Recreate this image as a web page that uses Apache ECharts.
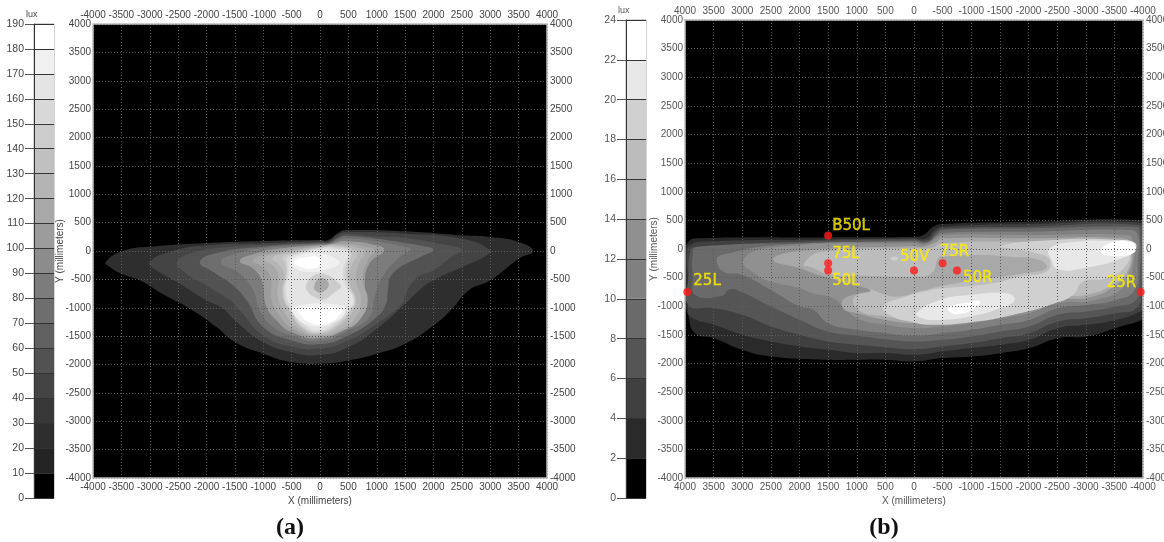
<!DOCTYPE html>
<html><head><meta charset="utf-8"><style>html,body{margin:0;background:#fff}#c{width:1164px;height:542px}</style>
<script src="https://cdn.jsdelivr.net/npm/echarts@6/dist/echarts.min.js"></script></head>
<body><div id="c"></div><script>
const luxBandsA=[0,10,20,30,40,50,60,70,80,90,100,110,120,130,140,150,160,170,180];
const luxGrayA=[0,36,46,56,68,82,96,110,124,140,156,168,180,192,204,216,228,240,255];
const luxBandsB=[0,2,4,6,8,10,12,14,16,18,20,22];
const luxGrayB=[0,42,64,85,106,128,144,168,188,208,232,255];

const a20=[[-3775,-194],[-3470,0],[-2880,82],[-2000,140],[-1000,176],[0,194],[141,194],[352,340],[500,370],[1500,347],[2500,276],[3000,247],[3500,159],[3750,0],[3500,-135],[3000,-517],[2620,-694],[2330,-1017],[2000,-1311],[1500,-1635],[1000,-1811],[500,-1929],[0,-1985],[-500,-1958],[-1000,-1811],[-1500,-1605],[-1823,-1340],[-2293,-1017],[-2764,-764],[-3175,-517],[-3500,-400],[-3704,-282]];
const a40=[[-3000,-194],[-2587,0],[-2000,100],[-1000,135],[0,170],[150,170],[330,300],[500,335],[1500,306],[2500,217],[3000,12],[2900,-100],[2500,-282],[2000,-517],[1744,-694],[1500,-929],[1000,-1370],[500,-1694],[0,-1830],[-500,-1782],[-1000,-1605],[-1500,-1223],[-1705,-1017],[-2000,-870],[-2470,-576],[-2880,-341]];
const a50=[[-2517,-194],[-2200,-20],[-1500,80],[-1000,105],[0,150],[150,155],[340,270],[500,300],[1000,255],[1500,230],[2200,110],[2500,24],[2350,-80],[2000,-341],[1688,-488],[1500,-782],[1450,-929],[1000,-1282],[500,-1576],[0,-1720],[-500,-1682],[-1000,-1488],[-1411,-1047],[-1588,-870],[-2000,-606],[-2352,-400]];
const a70=[[-2117,-194],[-1800,-30],[-1000,75],[0,135],[150,140],[350,240],[500,265],[1200,190],[1800,90],[2000,24],[1800,-90],[1280,-400],[1193,-723],[1165,-929],[1000,-1164],[500,-1488],[0,-1640],[-500,-1576],[-1000,-1340],[-1294,-870],[-1529,-606],[-1882,-370]];
const a80=[[-1746,-194],[-1450,-40],[-1000,50],[0,120],[150,125],[360,205],[500,225],[1100,150],[1500,70],[1600,24],[1400,-110],[1100,-459],[960,-811],[870,-1164],[500,-1400],[0,-1580],[-500,-1488],[-823,-1340],[-1058,-1047],[-1176,-694],[-1411,-400]];
const a100=[[-1411,-176],[-1150,-50],[-800,30],[0,105],[150,110],[350,165],[500,170],[900,120],[1130,24],[870,-223],[790,-576],[820,-929],[700,-1194],[500,-1352],[0,-1535],[-500,-1429],[-764,-1223],[-940,-988],[-1030,-517],[-1176,-311]];
const a110=[[-1188,-165],[-835,-30],[0,92],[341,130],[600,120],[811,70],[958,12],[840,-165],[753,-488],[840,-870],[723,-1180],[459,-1380],[0,-1505],[-423,-1400],[-717,-1135],[-864,-811],[-864,-488],[-1011,-282]];
const a120=[[-982,-135],[-658,-29],[0,80],[341,110],[723,45],[800,-18],[682,-223],[635,-517],[723,-870],[635,-1164],[400,-1360],[0,-1480],[-365,-1380],[-629,-1076],[-747,-782],[-729,-459],[-806,-282]];
const a130=[[-835,-118],[-541,-29],[0,68],[341,90],[606,25],[664,-47],[547,-282],[517,-547],[635,-870],[547,-1105],[341,-1320],[0,-1460],[-306,-1370],[-541,-1047],[-670,-753],[-629,-429],[-717,-253]];
const a140=[[-658,-106],[-482,-47],[0,58],[341,70],[547,-6],[480,-341],[500,-576],[620,-870],[520,-1076],[310,-1300],[0,-1440],[-290,-1360],[-530,-1047],[-650,-740],[-600,-420],[-610,-230]];
const a150=[[-590,-120],[-420,-50],[0,48],[312,50],[520,-20],[440,-341],[480,-576],[605,-870],[505,-1070],[295,-1285],[0,-1424],[-275,-1345],[-510,-1040],[-630,-730],[-580,-410],[-585,-220]];
const a160=[[-525,-125],[-370,-50],[0,28],[300,25],[490,-35],[400,-345],[445,-590],[585,-870],[475,-1060],[265,-1255],[0,-1393],[-245,-1318],[-475,-1030],[-600,-720],[-550,-400],[-548,-205]];
const a170top=[[-511,-194],[-335,-76],[18,-47],[282,-135],[341,-223],[47,-341],[-188,-370],[-423,-312]];
const a170low=[[-482,-988],[400,-958],[429,-1105],[253,-1252],[-12,-1325],[-247,-1290],[-423,-1164]];
const a180top=[[-453,-194],[-306,-123],[-12,-118],[-12,-253],[-159,-312],[-335,-282]];
const a180low=[[-376,-1017],[370,-1017],[340,-1135],[165,-1264],[-12,-1300],[-218,-1241],[-335,-1135]];
const aDipOuter=[[-247,-606],[-100,-429],[118,-417],[341,-576],[370,-635],[223,-753],[76,-853],[-100,-811],[-218,-706]];
const aDipInner=[[-100,-606],[18,-476],[153,-576],[47,-723],[-70,-706]];
const contoursA=[[20,a20],[40,a40],[50,a50],[70,a70],[80,a80],[100,a100],[110,a110],[120,a120],[130,a130],[140,a140],[150,a150],[160,a160],[140,aDipOuter],[110,aDipInner],[170,a170top],[170,a170low],[180,a180top],[180,a180low]];

const b2=[[3939,128],[3736,186],[1499,203],[0,215],[-163,244],[-337,389],[-511,436],[-2010,476],[-3968,505],[-4100,400],[-4100,-1100],[-3968,-1238],[-3707,-1325],[-3521,-1383],[-3021,-1528],[-2516,-1557],[-2010,-1731],[-1510,-1819],[-1005,-1877],[-500,-1906],[0,-1964],[494,-1935],[994,-1935],[1499,-1935],[2498,-1877],[2998,-1760],[3492,-1557],[3823,-1470],[3939,-1179],[4000,-830],[4000,-75]];
const b4=[[3910,70],[3736,128],[1499,168],[0,186],[-220,186],[-365,331],[-511,389],[-2010,436],[-3939,459],[-4015,331],[-4015,-1005],[-3881,-1121],[-3521,-1238],[-3021,-1325],[-2516,-1383],[-2010,-1586],[-1510,-1673],[-1005,-1731],[-500,-1790],[0,-1848],[494,-1818],[994,-1818],[1499,-1760],[1993,-1702],[2498,-1615],[2998,-1499],[3492,-1325],[3910,-1179],[3950,-1005],[3956,-482],[3968,-17]];
const b6=[[3910,-46],[3823,29],[1499,145],[0,168],[-250,157],[-383,302],[-511,360],[-2010,389],[-3910,418],[-3980,244],[-3980,-715],[-3881,-1034],[-3521,-1121],[-3021,-1208],[-2516,-1267],[-2010,-1470],[-1510,-1557],[-1005,-1644],[-500,-1702],[0,-1749],[494,-1714],[994,-1673],[1499,-1615],[1993,-1499],[2498,-1354],[2998,-1150],[3492,-1034],[3939,-976],[3939,-482]];
const b8=[[3864,-75],[3794,41],[1499,110],[0,145],[-250,128],[-395,261],[-511,331],[-2010,360],[-3852,389],[-3939,331],[-3939,-600],[-3881,-889],[-3521,-1005],[-3021,-1092],[-2516,-1150],[-2010,-1354],[-1510,-1441],[-1005,-1528],[-500,-1586],[0,-1615],[494,-1575],[994,-1516],[1499,-1441],[1993,-1238],[2498,-1005],[2998,-761],[3213,-703],[3358,-819],[3823,-802],[3864,-482]];
const b10=[[3445,-192],[3358,-105],[2341,70],[0,128],[-220,110],[-395,226],[-511,285],[-2010,302],[-3765,331],[-3910,244],[-3910,-192],[-3852,-715],[-3521,-889],[-3021,-976],[-2516,-1034],[-2010,-1238],[-1510,-1325],[-1005,-1412],[-500,-1470],[0,-1516],[494,-1470],[994,-1412],[1499,-1296],[1760,-1063],[1993,-1005],[2498,-715],[2998,-453],[3329,-395]];
const b12=[[2981,-192],[2458,29],[0,99],[-192,70],[-395,186],[-511,244],[-2010,244],[-3707,244],[-3823,157],[-3823,-308],[-3678,-657],[-3184,-889],[-2516,-947],[-2010,-1121],[-1510,-1208],[-1005,-1296],[-500,-1354],[0,-1383],[494,-1325],[994,-1208],[1238,-1005],[1412,-860],[1760,-773],[1993,-686],[2498,-569],[2748,-453]];
const b14=[[2458,-192],[2109,-46],[0,52],[-163,41],[-395,128],[-511,186],[-2010,186],[-3649,186],[-3794,70],[-3765,-366],[-3533,-627],[-3068,-842],[-2516,-889],[-2010,-1034],[-1510,-1133],[-1005,-1208],[-500,-1267],[0,-1296],[494,-1238],[994,-1121],[1238,-1034],[1208,-860],[755,-703],[1441,-511],[1993,-337]];
const b16=[[1848,-163],[1586,-46],[0,12],[-279,15],[-511,99],[-2010,128],[-3620,128],[-3765,40],[-3735,-366],[-3500,-600],[-3068,-790],[-2516,-842],[-2010,-980],[-1510,-1075],[-1005,-1150],[-500,-1208],[0,-1240],[500,-1180],[950,-1080],[1050,-850],[760,-720],[1441,-500],[1900,-330]];
const b14dip=[[1848,-300],[1500,-440],[800,-470],[0,-480],[-300,-430],[-430,-150],[-500,-134],[-1092,-105],[-1673,-134],[-2196,-192],[-2312,-337],[-1905,-424],[-1557,-482],[-1092,-540],[-511,-640],[-100,-740],[250,-830],[500,-800],[760,-705],[1441,-520],[1950,-340]];
const b18=[[-1499,41],[-1964,128],[-3650,157],[-3765,41],[-3707,-279],[-3358,-511],[-2952,-569],[-2777,-802],[-2370,-976],[-1848,-1121],[-1092,-1267],[-279,-1325],[70,-1267],[366,-1185],[540,-1010],[250,-866],[-273,-720],[-511,-686],[-1383,-598],[-1848,-482],[-2312,-395],[-2370,-192],[-2138,-75],[-1673,12]];
const b20top=[[-2370,12],[-2835,128],[-3416,145],[-3823,128],[-3880,12],[-3707,-134],[-2952,-337],[-2516,-354],[-2400,-192]];
const b20low=[[-46,-1121],[-453,-889],[-976,-802],[-1615,-773],[-1760,-889],[-1500,-1034],[-976,-1179],[-453,-1238],[-134,-1208]];
const b20blob=[[-1830,-790],[-1900,-755],[-2000,-790],[-1920,-830]];
const b20spot=[[270,-160],[340,-130],[410,-165],[340,-200]];
const b22top=[[-3271,-46],[-3416,99],[-3765,128],[-3870,41],[-3823,-75],[-3475,-122]];
const b22low=[[-598,-1034],[-918,-935],[-1150,-918],[-1063,-1034],[-802,-1133],[-668,-1121]];
const contoursB=[[2,b2],[4,b4],[6,b6],[8,b8],[10,b10],[12,b12],[14,b14],[16,b16],[14,b14dip],[18,b18],[20,b20top],[20,b20low],[18,b20blob],[18,b20spot],[22,b22top],[22,b22low]];

const pointNames=['B50L','75L','50L','50V','75R','50R','25L','25R'];
const pointX=[1500,1500,1500,0,-500,-750,3960,-3960];
const pointY=[236,-250,-375,-375,-250,-375,-750,-750];
const labelOffsets=[[8,-13],[8,-13],[8,7],[-10,-17],[1,-15],[10,4],[10,-14],[-30,-12]];

const gray=g=>`rgb(${g},${g},${g})`;
const font='"Liberation Sans",Arial,sans-serif';
const range=[-4000,4000];
function contourSeries(list,bands,grays,axisIdx){
  return {type:'custom',xAxisIndex:axisIdx,yAxisIndex:axisIdx,silent:true,z:2,
    data:list.map((c,i)=>[i,c[0]]),
    encode:{x:0,y:1},
    renderItem(p,api){
      const c=list[api.value(0)];
      return {type:'polygon',
        shape:{points:c[1].map(q=>api.coord(q)),smooth:0.5},
        style:{fill:gray(grays[bands.indexOf(c[0])])},
        clipPath:{type:'rect',shape:{x:p.coordSys.x,y:p.coordSys.y,width:p.coordSys.width,height:p.coordSys.height}}};
    }};
}
function barSeries(bands,grays,step,axisIdx){
  return {type:'custom',xAxisIndex:axisIdx,yAxisIndex:axisIdx,silent:true,z:2,
    data:bands.map((b,i)=>[0,b,i]),encode:{x:0,y:1},
    renderItem(p,api){
      const low=api.value(1),s=api.coord([0,low]),e=api.coord([1,low+step]);
      return {type:'rect',shape:{x:s[0],y:e[1],width:e[0]-s[0],height:s[1]-e[1]},style:{fill:gray(grays[api.value(2)])}};
    }};
}
const lbl=(c,extra)=>Object.assign({color:c,fontFamily:font,fontSize:10,margin:4,showMinLabel:true,showMaxLabel:true,hideOverlap:false,interval:0,formatter:v=>String(v)},extra||{});
const gridLine={color:'#5c5c5c',type:[1,2],width:1};
function xAx(g,pos,inv,name,col){
  return {type:'value',gridIndex:g,position:pos,min:range[0],max:range[1],interval:500,inverse:inv,z:5,
    name:name,nameLocation:'middle',nameGap:18,nameMoveOverlap:false,nameTextStyle:{color:col,fontFamily:font,fontSize:10},
    axisLine:{onZero:false,show:true,lineStyle:{color:'#bdbdbd',width:1.5}},axisTick:{show:false},
    axisLabel:lbl(col),
    splitLine:{show:pos==='bottom',lineStyle:gridLine}};
}
function yAx(g,pos,name,col,gap){
  return {type:'value',gridIndex:g,position:pos,min:range[0],max:range[1],interval:500,z:5,
    name:name,nameLocation:'middle',nameGap:gap,nameRotate:90,nameMoveOverlap:false,nameTextStyle:{color:col,fontFamily:font,fontSize:10},
    axisLine:{onZero:false,show:true,lineStyle:{color:'#bdbdbd',width:1.5}},axisTick:{show:false},
    axisLabel:lbl(col,{margin:pos==='left'?2:3}),
    splitLine:{show:pos==='left',lineStyle:gridLine}};
}
function barY(g,max,step,col){
  return {type:'value',gridIndex:g,position:'left',min:0,max:max,interval:step,z:5,
    name:'lux',nameLocation:'end',nameGap:5,nameMoveOverlap:false,nameTextStyle:{color:col,fontFamily:font,fontSize:9,align:'left',padding:[0,0,0,-8]},
    axisLine:{show:true,lineStyle:{color:'#333',width:1}},axisTick:{length:9,lineStyle:{color:'#555'}},
    axisLabel:lbl(col,{margin:10,fontSize:10.5}),
    splitLine:{show:true,lineStyle:{color:'#333',width:1}}};
}
const barX=g=>({type:'value',gridIndex:g,min:0,max:1,show:false});
const gridBase={outerBoundsMode:'none',containLabel:false};
const serif='"Liberation Serif",serif';
const capRich={n:{fontFamily:serif,fontSize:24,color:'#111'},b:{fontFamily:serif,fontSize:24,fontWeight:'bold',color:'#111'}};

const option={animation:false,backgroundColor:'#fff',
  grid:[
    {...gridBase,left:93,width:454,top:24,height:454,show:true,backgroundColor:'#000',borderWidth:0},
    {...gridBase,left:685,width:458,top:20,height:458,show:true,backgroundColor:'#000',borderWidth:0},
    {...gridBase,left:34,width:20,top:24,height:474,show:true,borderColor:'#aaa',borderWidth:1},
    {...gridBase,left:626,width:20,top:20,height:478,show:true,borderColor:'#aaa',borderWidth:1}],
  title:[
    {text:'{n|(}{b|a}{n|)}',left:285,top:511,textAlign:'center',textStyle:{rich:capRich}},
    {text:'{n|(}{b|b}{n|)}',left:879,top:511,textAlign:'center',textStyle:{rich:capRich}}],
  xAxis:[xAx(0,'bottom',false,'X (millimeters)','#444'),xAx(1,'bottom',true,'X (millimeters)','#555'),
    barX(2),barX(3),
    xAx(0,'top',false,'','#444'),xAx(1,'top',true,'','#555')],
  yAxis:[yAx(0,'left','Y (millimeters)','#444',28),yAx(1,'left','Y (millimeters)','#555',26),
    barY(2,190,10,'#444'),barY(3,24,2,'#555'),
    yAx(0,'right','','#444',30),yAx(1,'right','','#555',30)],
  series:[
    contourSeries(contoursA,luxBandsA,luxGrayA,0),
    contourSeries(contoursB,luxBandsB,luxGrayB,1),
    barSeries(luxBandsA,luxGrayA,10,2),
    barSeries(luxBandsB,luxGrayB,2,3),
    {type:'scatter',xAxisIndex:1,yAxisIndex:1,z:20,symbolSize:8,silent:true,itemStyle:{color:'#ff1a1a'},
     data:pointNames.map((n,i)=>({name:n,value:[pointX[i],pointY[i]],
       label:{show:true,formatter:n,position:labelOffsets[i],color:'#ffee00',fontFamily:'"DejaVu Sans",sans-serif',fontSize:15,textBorderColor:'#ffee00',textBorderWidth:0.4}}))}
  ]};
echarts.init(document.getElementById('c'),null,{renderer:'canvas'}).setOption(option);
</script></body></html>
